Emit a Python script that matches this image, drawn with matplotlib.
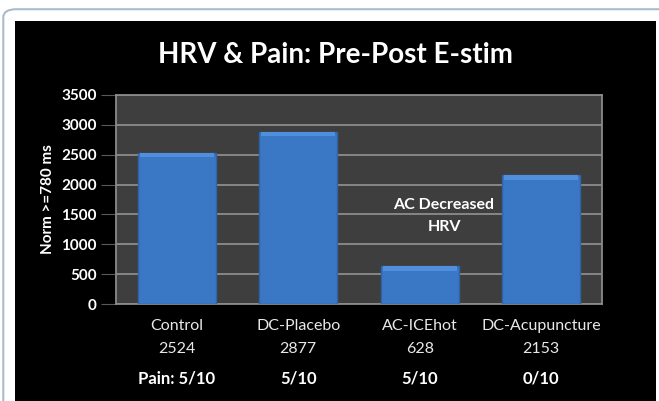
import matplotlib
matplotlib.use("Agg")
import matplotlib.pyplot as plt
from matplotlib.patches import Rectangle, FancyBboxPatch
import numpy as np

# chart data
groups = ["Control", "DC-Placebo", "AC-ICEhot", "DC-Acupuncture"]
hrv = [2524, 2877, 628, 2153]
pain = ["Pain: 5/10", "5/10", "5/10", "0/10"]
yticks = [0, 500, 1000, 1500, 2000, 2500, 3000, 3500]

plt.rcParams['font.family'] = ['Lato', 'DejaVu Sans']

fig = plt.figure(figsize=(6.59, 4.01), dpi=100)
fig.patch.set_facecolor('white')

# outer rounded frame and black slide panel
fig.patches.append(FancyBboxPatch((0.005, -0.05), 1.05, 1.027,
                                  boxstyle="round,pad=0,rounding_size=0.02",
                                  transform=fig.transFigure, facecolor='white',
                                  edgecolor='#a9bccd', linewidth=1.5, zorder=0))
fig.patches.append(Rectangle((15 / 659, 0), 641 / 659, 1 - 21 / 401,
                             transform=fig.transFigure, facecolor='black',
                             edgecolor='none', zorder=1))

ax = fig.add_axes([116 / 659, 1 - 304 / 401, 486 / 659, 209 / 401])
ax.set_zorder(3)
ax.set_facecolor('#3e3e3e')

x = np.arange(len(groups))
ax.bar(x, hrv, width=0.64, color='#3a77c4', edgecolor='#2f64a8',
       linewidth=1.0, zorder=3)
# soft bevel along the top of each bar
bevel = 70
ax.bar(x, bevel, bottom=np.array(hrv) - bevel, width=0.61,
       color='#4f8fdc', edgecolor='none', zorder=4)

ax.set_xlim(-0.5, len(groups) - 0.5)
ax.set_ylim(0, 3500)
ax.set_yticks(yticks)
ax.set_yticklabels([str(v) for v in yticks], color='white',
                   fontsize=11, fontweight='bold')
ax.yaxis.grid(True, color='#8c8c8c', linewidth=1.3, zorder=1)
ax.tick_params(axis='y', length=11, color='#5a5a5a', pad=3)

ax.set_xticks(x)
ax.set_xticklabels([f"{g}\n{v}" for g, v in zip(groups, hrv)],
                   color='#e8e8e8', fontsize=11.5, linespacing=1.75)
ax.tick_params(axis='x', length=0, pad=11)

for s in ax.spines.values():
    s.set_color('#8a8a8a')
    s.set_linewidth(1.3)

ax.set_ylabel("Norm >=780 ms", color='white', fontsize=11,
              fontweight='bold', labelpad=4)

for i, p in enumerate(pain):
    ax.text(x[i], -0.355, p, transform=ax.get_xaxis_transform(),
            ha='center', va='center', color='white', fontsize=12,
            fontweight='bold')

ax.text(2.2, 1475, "AC Decreased\nHRV", ha='center', va='center',
        color='white', fontsize=11.5, fontweight='bold', linespacing=1.7,
        zorder=5)

fig.text(335 / 659, 1 - 55 / 401, "HRV & Pain: Pre-Post E-stim",
         ha='center', va='center', color='white', fontsize=20,
         fontweight='bold', zorder=5)

fig.savefig("out.png", dpi=100, facecolor=fig.get_facecolor())
